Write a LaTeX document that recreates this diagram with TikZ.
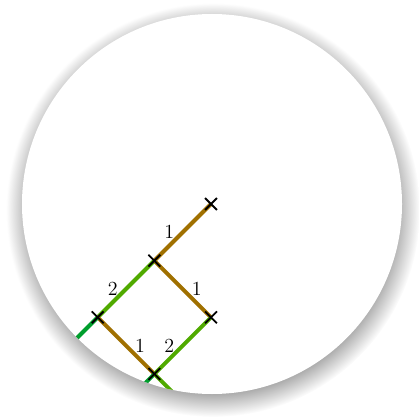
\documentclass[tikz,border=0pt]{standalone}
\usepackage{xcolor}
\usetikzlibrary{positioning,shapes.misc}
\definecolor{pathbrown}{RGB}{160,112,0}
\definecolor{pathgreen}{RGB}{80,170,0}
\definecolor{pathdark}{RGB}{0,158,45}
\pgfdeclareradialshading{lensrim}{\pgfpoint{0bp}{0bp}}{%
  color(0bp)=(black!58); color(20bp)=(black!58); color(25bp)=(white); color(50bp)=(white)}

\begin{document}
\begin{tikzpicture}[x=0.6pt, y=-0.6pt, node distance=34pt and 34pt,
    edge/.style={line width=2.4pt},
    crossmark/.style={draw, cross out, line width=1.1pt, minimum size=6pt, inner sep=0pt},
    weight/.style={midway, text=black, font=\large, inner sep=3.33pt}]
  \useasboundingbox (0,0) rectangle (418,419);
  % lens with its shadow
  \shade[shading=lensrim] (213,210) circle (207);
  \fill[white] (212,204) circle (190);
  % lattice points
  \coordinate (top) at (211,204);
  \coordinate[below left=of top] (mid);
  \coordinate[below right=of mid] (east);
  \coordinate[below left=of mid] (west);
  \coordinate[below right=of west] (bot);
  \coordinate[below left=of west] (westout);
  \coordinate[below left=of bot] (botleft);
  \coordinate[below right=of bot] (botright);
  \begin{scope}
    \clip (212,204) circle (190);
    \draw[edge, pathbrown] (mid) -- (top) node[weight, left=0.5pt] {1};
    \draw[edge, pathgreen] (west) -- (mid) node[weight, left=0.5pt] {2};
    \draw[edge, pathbrown] (mid) -- (east) node[weight, right=1pt] {1};
    \draw[edge, pathbrown] (west) -- (bot) node[weight, right=1pt] {1};
    \draw[edge, pathgreen] (bot) -- (east) node[weight, left=0.5pt] {2};
    \draw[edge, pathdark] (westout) -- (west);
    \draw[edge, pathdark] (botleft) -- (bot);
    \draw[edge, pathgreen] (bot) -- (botright);
    \foreach \p in {top,mid,east,west,bot}
      \node[crossmark] (x\p) at (\p) {};
  \end{scope}
\end{tikzpicture}
\end{document}
